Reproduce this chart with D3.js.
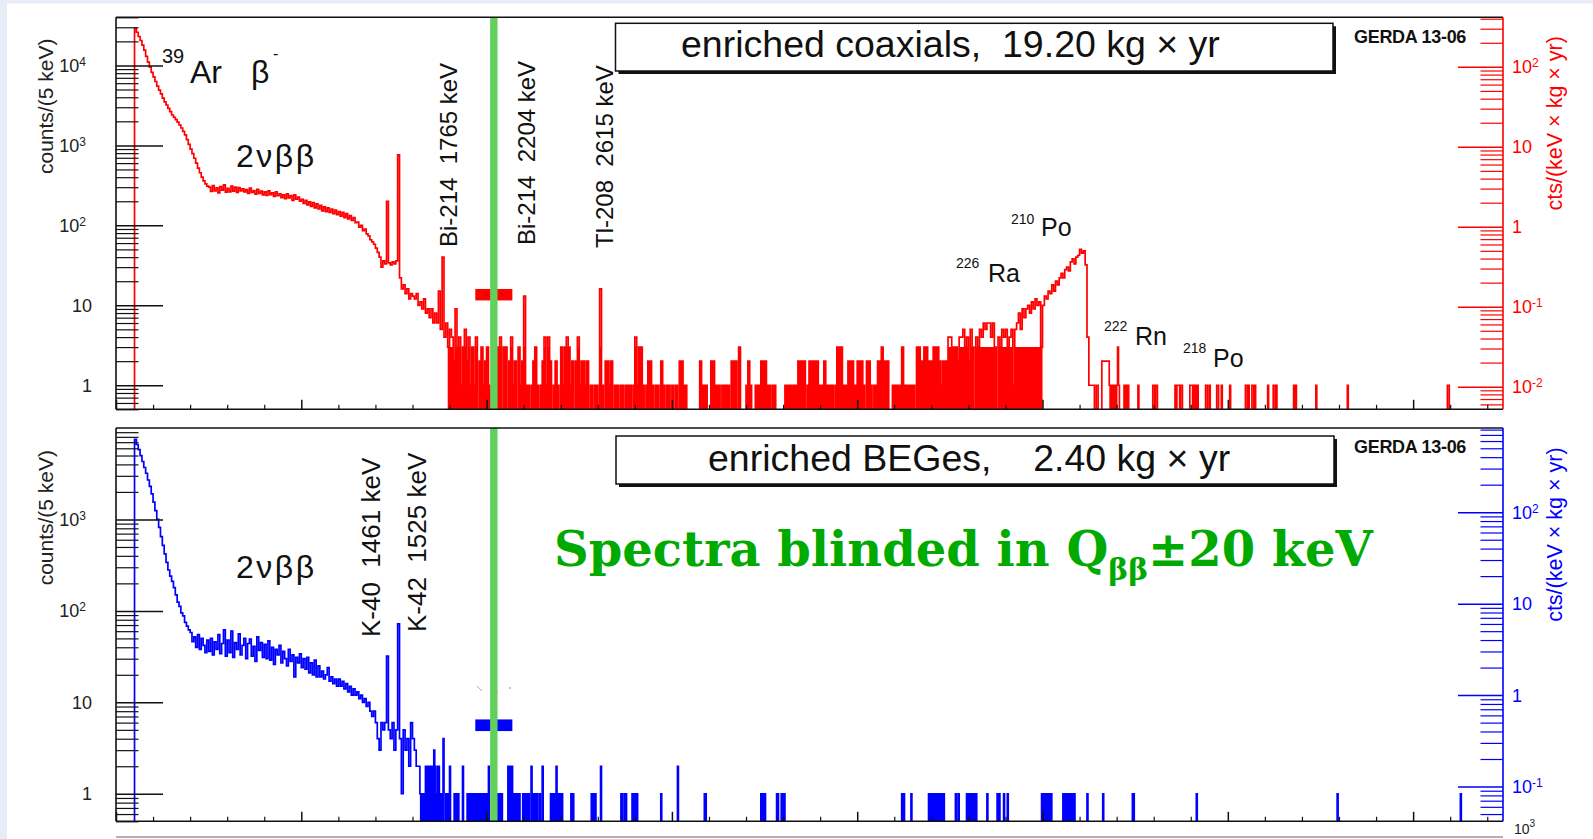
<!DOCTYPE html>
<html>
<head>
<meta charset="utf-8">
<script src="https://cdn.jsdelivr.net/npm/d3@7/dist/d3.min.js"></script>
<style>
  html, body { margin: 0; padding: 0; background: #fff; }
  svg { display: block; font-family: "Liberation Sans", Arial, Helvetica, sans-serif; }
  .pre { white-space: pre; }
</style>
</head>
<body>
<svg id="chart" width="1593" height="839"></svg>
<script>
// ---------------- data ----------------
const binKeV = 5;                       // counts are per 5 keV
const exposures = [19.20, 2.40];        // kg × yr : coaxials, BEGes
const qbb = 2039;                       // keV
const blindHalfWidth = 20;              // keV
const windowKeV = [1939, 2139];
const coaxWindowCounts = [11.5, 16];
const begeWindowCounts = [4.85, 6.5];

// enriched coaxial detectors, 10 keV steps from 100 keV
const coaxContinuumStart = 100;
const coaxContinuum = [
  29000,26000,23000,20500,18000,15500,13000,11000,9500,8200,
  7200,6300,5500,4900,4400,3900,3500,3200,2900,2650,
  2400,2250,2100,1950,1800,1650,1500,1350,1180,1030,
  900,790,690,600,520,455,400,360,330,310,
  300,265,315,270,295,255,305,275,320,260,
  290,262,310,268,300,258,296,270,285,262,
  280,250,292,258,272,246,282,250,268,240,
  262,236,270,242,255,230,262,235,248,222,
  240,215,248,220,235,205,240,212,225,200,
  212,188,205,180,196,172,192,165,185,160,
  178,152,170,148,165,145,160,140,155,136,
  148,130,145,125,140,120,132,115,125,108,
  110,95,100,86,90,78,74,66,62,58,
  52,46,40,30,36,33,200,34,32,35,
  33,36,760,22,16,18,14,16,12,14
];
const coaxMidStart = 1600;
const coaxMid = [
  13,12,14,10,11,9,12,8,9,7,
  9,6,8,6,15,5,40,4,6,3,
  5,4,2,9,3,4,1,3,5,2,
  4,1,3,1,4,0,2,3,1,2,
  3,1,0,0,0,0,3,4,0,3,
  3,0,2,4,1,2,0,3,1,2,
  13,1,1,0,1,2,3,1,0,1,
  2,4,1,4,2,0,1,2,1,0,
  3,1,3,4,3,1,2,0,2,4,
  1,2,2,1,2,0,1,0,1,1,
  0,16,1,0,2,2,1,2,0,1,
  1,0,1,1,0,1,1,1,0,1,
  4,1,3,3,1,0,1,2,2,1,
  0,1,1,0,2,1,0,1,1,0,
  1,0,1,0,2,2,1,1,0,0,
  0,0,0,0,0,2,1,1,1,0,
  0,2,2,1,1,1,0,1,1,1,
  1,0,2,2,2,0,3,0,0,0,
  1,2,1,0,0,1,1,1,2,2,
  2,1,1,0,1,1,0,0,0,0,
  0,1,1,1,1,1,1,1,2,2,
  2,2,0,1,2,2,2,2,2,1,
  1,1,2,1,1,1,1,0,1,3,
  3,3,1,1,1,2,2,2,1,1,
  2,2,2,1,0,2,2,1,0,1,
  1,2,2,3,2,2,2,0,0,1,
  1,1,1,1,3,1,1,1,1,1,
  1,0,3,3,2,2,3,3,2,2
];
const coaxAlphaStart = 4400;
const coaxAlpha = [
  2,3,3,3,2,1,2,2,2,4,
  4,3,3,3,2,4,4,5,3,4,
  2,5,3,0,4,3,5,4,6,5,
  6,6,4,6,3,0,4,3,5,4,
  5,3,4,5,1,5,6,8,5,9,
  7,9,10,8,11,9,12,10,11,3,
  10,13,12,15,14,18,15,20,18,22,
  25,22,28,30,27,35,38,33,40,42,
  50,45,48,32,4,1,1,1,0,1
];
// single 5 keV bins above the 210Po peak: [keV, counts]
const coaxEvents = [
  [5320,2],[5325,2],[5330,2],[5335,2],[5340,2],[5345,2],[5350,2],[5355,2],[5360,1],[5370,1],
  [5380,1],[5390,1],[5400,1],[5405,3],[5410,1],[5440,1],[5450,1],[5460,1],[5515,1],
  [5595,1],[5600,1],[5610,1],[5615,1],[5715,1],[5725,1],[5730,1],[5735,1],[5745,1],[5750,1],
  [5795,1],[5800,1],[5805,1],[5815,1],[5825,1],[5835,1],[5880,1],[5885,1],[5900,1],
  [5940,1],[5945,1],[5965,1],[6010,1],[6095,1],[6100,1],[6110,1],[6130,1],[6135,1],[6145,1],
  [6215,1],[6245,1],[6250,1],[6260,1],[6355,1],[6365,1],[6475,1],[6645,1],[7185,1],[7190,1]
];

// enriched BEGe detectors, 10 keV steps from 100 keV
const begeContinuumStart = 100;
const begeContinuum = [
  7500,6600,5800,5000,4300,3700,3200,2700,2300,1900,
  1550,1250,1000,820,650,520,420,340,280,240,
  210,180,150,125,112,95,88,75,68,62,
  58,46,52,40,55,38,50,42,35,48,
  36,50,33,46,38,55,34,44,62,32,
  48,35,60,31,45,38,56,33,42,50,
  30,44,49,32,41,28,52,37,45,31,
  43,30,47,29,40,26,38,33,42,27,
  36,30,25,38,28,33,19,31,27,34,
  24,30,23,31,21,27,20,29,19,25,
  19,22,18,20,24,17,19,16,18,15,
  18,15,17,14,16,13,15,12,14,12,
  13,11,12,10,11,9,10,8,7,8,
  6,4,3,6,5,6,32,5,4,6,
  3,5,72,4,1,5,3,4,2,6,
  4,3,2,2,1
];
// single 5 keV bins: [keV, counts]
const begeEvents = [
  [1650,1],[1660,1],[1665,1],[1670,2],[1675,2],[1680,2],[1685,2],[1690,2],[1695,2],[1700,2],
  [1705,2],[1710,2],[1715,3],[1720,2],[1725,1],[1735,2],[1740,2],[1745,1],[1755,1],[1765,4],
  [1780,1],[1790,1],[1800,2],[1825,1],[1835,1],[1845,1],[1870,2],[1895,1],[1900,1],[1910,1],
  [1915,1],[1925,1],[1930,1],[1940,1],[1950,1],[1955,1],[1965,1],[1975,1],[1985,1],[1990,1],
  [2000,1],[2010,2],[2060,1],[2070,1],[2080,1],[2115,2],[2120,2],[2130,2],[2135,2],[2145,1],
  [2155,1],[2165,1],[2175,1],[2195,1],[2205,1],[2215,1],[2225,1],[2240,2],[2250,1],[2260,1],
  [2270,1],[2285,1],[2300,2],[2345,1],[2355,1],[2365,1],[2375,2],[2385,1],[2395,1],[2405,1],
  [2455,1],[2465,1],[2565,1],[2575,1],[2585,1],[2615,2],[2725,1],[2730,1],[2745,1],[2750,1],
  [2785,1],[2795,1],[2800,1],[2810,1],[2940,1],[3030,2],[3175,1],[3180,1],[3480,1],[3485,1],
  [3490,1],[3500,1],[3565,1],[3570,1],[3590,1],[3595,1],[3605,1],[4240,1],[4250,1],[4290,1],
  [4385,1],[4390,1],[4395,1],[4400,1],[4410,1],[4415,1],[4425,1],[4435,1],[4445,1],[4455,1],
  [4465,1],[4530,1],[4545,1],[4590,1],[4595,1],[4600,1],[4610,1],[4615,1],[4625,1],[4630,1],
  [4640,1],[4700,1],[4755,1],[4765,1],[4790,1],[4810,1],[4995,1],[5005,1],[5015,1],[5025,1],
  [5035,1],[5045,1],[5110,1],[5115,1],[5125,1],[5130,1],[5135,1],[5145,1],[5150,1],[5160,1],
  [5170,1],[5240,1],[5325,1],[5485,1],[5490,1],[5830,1],[6590,1],[7255,1]
];

// axis ticks
const energyMajorTicks = [0,1000,2000,3000,4000,5000,6000,7000];
const energyMinorStep = 200;
const coaxCountTicks = [1,10,100,1000,10000];
const coaxRateTicks  = [0.01,0.1,1,10,100];
const begeCountTicks = [1,10,100,1000];
const begeRateTicks  = [0.1,1,10,100];

// line annotations
const coaxLineLabels = ["Bi-214  1765 keV", "Bi-214  2204 keV", "Tl-208  2615 keV"];
const coaxLineLabelKeV = [1840, 2262, 2683];
const begeLineLabels = ["K-40  1461 keV", "K-42  1525 keV"];
const begeLineLabelKeV = [1425, 1674];

// ---------------- drawing ----------------
const W = 1593, H = 839;
const svg = d3.select("#chart");
const x = d3.scaleLinear().domain([0, 7485]).range([116, 1503]);
const X0 = x.range()[0], X1 = x.range()[1];

svg.append("rect").attr("width", W).attr("height", H).attr("fill", "#fff");
svg.append("rect").attr("x", 0).attr("y", 0).attr("width", 7).attr("height", H).attr("fill", "#e7ecf6");
svg.append("rect").attr("x", 0).attr("y", 0).attr("width", W).attr("height", 3.5).attr("fill", "#e7ecf6");

function buildBins(segments, events) {
  const bins = [];
  segments.forEach(([start, width, values]) =>
    values.forEach((c, i) => bins.push({ e0: start + i * width, e1: start + (i + 1) * width, c })));
  events.forEach(([e, c]) => bins.push({ e0: e, e1: e + binKeV, c }));
  bins.sort((a, b) => a.e0 - b.e0);
  return bins;
}

function stepPoints(bins, y, floorY) {
  const pts = [];
  let prev = null;
  bins.forEach(b => {
    const yc = b.c > 0 ? y(b.c) : floorY;
    if (prev === null || b.e0 - prev > 0.01) {
      if (prev !== null) pts.push([x(prev), floorY]);
      pts.push([x(b.e0), floorY]);
    }
    pts.push([x(b.e0), yc], [x(b.e1), yc]);
    prev = b.e1;
  });
  pts.push([x(prev), floorY]);
  return pts;
}

function logMinor(domain) {
  const out = [];
  for (let p = -3; p <= 5; p++) {
    for (let k = 2; k <= 9; k++) {
      const v = k * Math.pow(10, p);
      if (v >= domain[0] * 0.999 && v <= domain[1] * 1.001) out.push(v);
    }
  }
  return out;
}

function styleAxis(sel, color, width) {
  sel.select(".domain").remove();
  sel.selectAll(".tick line").attr("stroke", color).attr("stroke-width", width);
  sel.selectAll(".tick text").remove();
}

// power-of-ten label: "1", "10" or "10" with raised exponent
function powLabel(g, px, py, v, anchor, color) {
  const e = Math.round(Math.log10(v));
  const t = g.append("text").attr("x", px).attr("y", py).attr("font-size", 18)
    .attr("fill", color).attr("text-anchor", anchor);
  if (e === 0) t.text("1");
  else if (e === 1) t.text("10");
  else {
    t.append("tspan").text("10");
    t.append("tspan").attr("dy", -6).attr("font-size", 12).text(String(e));
  }
  return t;
}

const panels = [
  { id: "coax", top: 17.3, bottom: 409.3, countDomain: [0.5, 4e4], color: "#ff0000",
    bins: buildBins([[coaxContinuumStart, 10, coaxContinuum], [coaxMidStart, 10, coaxMid],
                     [coaxAlphaStart, 10, coaxAlpha]], coaxEvents),
    countTicks: coaxCountTicks, rateTicks: coaxRateTicks, exposure: exposures[0],
    windowCounts: coaxWindowCounts, denseRange: [1790, 5000],
    title: "enriched coaxials,  " + exposures[0].toFixed(2) + " kg × yr", titleX: 681, titleY: 57,
    box: [615.5, 23.3, 1333, 71], gerdaY: 43 },
  { id: "bege", top: 428, bottom: 821.3, countDomain: [0.5, 1e4], color: "#0000ff",
    bins: buildBins([[begeContinuumStart, 10, begeContinuum]], begeEvents),
    countTicks: begeCountTicks, rateTicks: begeRateTicks, exposure: exposures[1],
    windowCounts: begeWindowCounts, denseRange: [1640, 7485],
    title: "enriched BEGes,    " + exposures[1].toFixed(2) + " kg × yr", titleX: 708, titleY: 471,
    box: [616, 436, 1334, 484], gerdaY: 453 }
];

const blindGreen = "#62d05c";

panels.forEach(p => {
  const g = svg.append("g");
  const y = d3.scaleLog().domain(p.countDomain).range([p.bottom, p.top]);
  const rateDomain = p.countDomain.map(v => v / (binKeV * p.exposure));
  const yRate = d3.scaleLog().domain(rateDomain).range([p.bottom, p.top]);

  const clipId = "clip-" + p.id;
  svg.append("clipPath").attr("id", clipId).append("rect")
    .attr("x", X0).attr("y", p.top).attr("width", X1 - X0).attr("height", p.bottom - p.top);

  const pts = stepPoints(p.bins, y, p.bottom + 3);

  // low-count region: the 5 keV bins blend into a solid band near the axis
  const bandId = "band-" + p.id;
  svg.append("clipPath").attr("id", bandId).append("rect")
    .attr("x", x(p.denseRange[0])).attr("y", y(3))
    .attr("width", x(p.denseRange[1]) - x(p.denseRange[0])).attr("height", p.bottom - y(3));
  g.append("g").attr("clip-path", `url(#${clipId})`)
    .append("path").attr("d", d3.line()(pts) + "Z")
    .attr("fill", p.color).attr("clip-path", `url(#${bandId})`);

  // spectrum outline
  g.append("path")
    .attr("d", d3.line()(pts))
    .attr("fill", "none").attr("stroke", p.color).attr("stroke-width", 1.7)
    .attr("stroke-linejoin", "miter").attr("clip-path", `url(#${clipId})`);

  // window marker
  g.append("rect")
    .attr("x", x(windowKeV[0])).attr("width", x(windowKeV[1]) - x(windowKeV[0]))
    .attr("y", y(p.windowCounts[1])).attr("height", y(p.windowCounts[0]) - y(p.windowCounts[1]))
    .attr("fill", p.color);

  // blinded region
  g.append("rect")
    .attr("x", x(qbb - blindHalfWidth)).attr("width", x(qbb + blindHalfWidth) - x(qbb - blindHalfWidth))
    .attr("y", p.top).attr("height", p.bottom - p.top).attr("fill", blindGreen);

  // left count axis (ticks inside)
  g.append("g").attr("transform", `translate(${X0},0)`)
    .call(d3.axisRight(y).tickValues(p.countTicks).tickSize(47).tickFormat(""))
    .call(s => styleAxis(s, "#111", 1.5));
  g.append("g").attr("transform", `translate(${X0},0)`)
    .call(d3.axisRight(y).tickValues(logMinor(p.countDomain)).tickSize(22.5).tickFormat(""))
    .call(s => styleAxis(s, "#111", 1.2));

  // right rate axis
  g.append("g").attr("transform", `translate(${X1},0)`)
    .call(d3.axisLeft(yRate).tickValues(p.rateTicks).tickSize(45).tickFormat(""))
    .call(s => styleAxis(s, p.color, 1.5));
  g.append("g").attr("transform", `translate(${X1},0)`)
    .call(d3.axisLeft(yRate).tickValues(logMinor(rateDomain)).tickSize(22.5).tickFormat(""))
    .call(s => styleAxis(s, p.color, 1.2));

  // energy axis ticks
  g.append("g").attr("transform", `translate(0,${p.bottom})`)
    .call(d3.axisTop(x).tickValues(energyMajorTicks).tickSize(9.5).tickFormat(""))
    .call(s => styleAxis(s, "#111", 1.5));
  g.append("g").attr("transform", `translate(0,${p.bottom})`)
    .call(d3.axisTop(x).tickValues(d3.range(0, x.domain()[1], energyMinorStep).filter(v => v % 1000 !== 0))
      .tickSize(4.5).tickFormat(""))
    .call(s => styleAxis(s, "#111", 1.2));

  // frame
  g.append("line").attr("x1", X0).attr("x2", X1).attr("y1", p.top).attr("y2", p.top).attr("stroke", "#111").attr("stroke-width", 1.6);
  g.append("line").attr("x1", X0).attr("x2", X1).attr("y1", p.bottom).attr("y2", p.bottom).attr("stroke", "#111").attr("stroke-width", 1.6);
  g.append("line").attr("x1", X0).attr("x2", X0).attr("y1", p.top).attr("y2", p.bottom).attr("stroke", "#111").attr("stroke-width", 1.6);
  g.append("line").attr("x1", X1).attr("x2", X1).attr("y1", p.top).attr("y2", p.bottom).attr("stroke", p.color).attr("stroke-width", 1.6);

  // tick labels
  p.countTicks.forEach(v => {
    const e = Math.round(Math.log10(v));
    powLabel(g, e <= 1 ? 92 : 86, y(v) + 6.5, v, "end", "#222");
  });
  p.rateTicks.forEach(v => powLabel(g, 1512, yRate(v) + 6.5, v, "start", p.color));

  // axis titles
  g.append("text").attr("transform", `translate(53,${(p.top + p.bottom) / 2 - 107}) rotate(-90)`)
    .attr("text-anchor", "middle").attr("font-size", 21).attr("fill", "#222").text("counts/(5 keV)");
  g.append("text").attr("transform", `translate(1562,${(p.top + p.bottom) / 2 - 90}) rotate(-90)`)
    .attr("text-anchor", "middle").attr("font-size", 21.5).attr("fill", p.color).text("cts/(keV × kg × yr)");

  // exposure box with shadow
  const [bx0, by0, bx1, by1] = p.box;
  g.append("rect").attr("x", bx0 + 3).attr("y", by0 + 3).attr("width", bx1 - bx0).attr("height", by1 - by0).attr("fill", "#111");
  g.append("rect").attr("x", bx0).attr("y", by0).attr("width", bx1 - bx0).attr("height", by1 - by0)
    .attr("fill", "#fff").attr("stroke", "#111").attr("stroke-width", 1.5);
  g.append("text").attr("class", "pre").attr("x", p.titleX).attr("y", p.titleY)
    .attr("font-size", 37.5).attr("fill", "#111").text(p.title);

  g.append("text").attr("x", 1354).attr("y", p.gerdaY).attr("font-size", 18).attr("font-weight", "bold")
    .attr("fill", "#111").attr("letter-spacing", -0.3).text("GERDA 13-06");
});

// small marks in the window markers
[[485, 293], [501, 293]].forEach(([a, b]) =>
  svg.append("line").attr("x1", a).attr("y1", b).attr("x2", a + 2.5).attr("y2", b + 3).attr("stroke", "#a01010").attr("stroke-width", 1));
svg.append("line").attr("x1", 477).attr("y1", 686).attr("x2", 482).attr("y2", 691).attr("stroke", "#aaa").attr("stroke-width", 1);
[[497, 692], [510, 688]].forEach(([a, b]) => svg.append("circle").attr("cx", a).attr("cy", b).attr("r", 0.9).attr("fill", "#aaa"));

// peak annotations
function lineLabels(labels, energies, yStart, size) {
  labels.forEach((s, i) => {
    svg.append("text").attr("class", "pre")
      .attr("transform", `translate(${x(energies[i])},${yStart[i]}) rotate(-90)`)
      .attr("font-size", size).attr("fill", "#111").text(s);
  });
}
lineLabels(coaxLineLabels, coaxLineLabelKeV, [247, 245, 248], 24);
lineLabels(begeLineLabels, begeLineLabelKeV, [637, 632], 26);

function nuclide(mass, sym, mx, my, sx, sy) {
  svg.append("text").attr("x", mx).attr("y", my).attr("font-size", 14).attr("fill", "#111").text(mass);
  svg.append("text").attr("x", sx).attr("y", sy).attr("font-size", 25).attr("fill", "#111").text(sym);
}
nuclide("226", "Ra", 956, 268, 988, 282);
nuclide("210", "Po", 1011, 224, 1041, 236);
nuclide("222", "Rn", 1104, 331, 1135, 345);
nuclide("218", "Po", 1183, 353, 1213, 367);

// 39Ar beta
svg.append("text").attr("x", 162).attr("y", 63).attr("font-size", 20).attr("fill", "#111").text("39");
svg.append("text").attr("x", 190).attr("y", 83).attr("font-size", 32).attr("fill", "#111").text("Ar");
svg.append("text").attr("x", 251).attr("y", 83).attr("font-size", 32).attr("fill", "#111").text("β");
svg.append("text").attr("x", 273).attr("y", 59).attr("font-size", 16).attr("fill", "#111").text("-");

// 2νββ continuum labels
[167, 578].forEach(by =>
  svg.append("text").attr("x", 236).attr("y", by).attr("font-size", 32).attr("letter-spacing", 2.5)
    .attr("fill", "#111").text("2νββ"));

// blinding note
const note = svg.append("text").attr("x", 554).attr("y", 566)
  .attr("font-family", "'DejaVu Serif', 'Liberation Serif', serif").attr("font-weight", "bold")
  .attr("font-size", 48).attr("fill", "#00aa00");
note.append("tspan").text("Spectra blinded in Q");
note.append("tspan").attr("font-size", 30).attr("dy", 14).text("ββ");
note.append("tspan").attr("dy", -14).text("±20 keV");

// edge of the next frame below, with the energy axis multiplier
svg.append("line").attr("x1", X0).attr("x2", X1).attr("y1", 837).attr("y2", 837).attr("stroke", "#999").attr("stroke-width", 1.5);
const expo = svg.append("text").attr("x", 1514).attr("y", 834).attr("font-size", 14).attr("fill", "#222");
expo.append("tspan").text("10");
expo.append("tspan").attr("dy", -7).attr("font-size", 10).text("3");
</script>
</body>
</html>
